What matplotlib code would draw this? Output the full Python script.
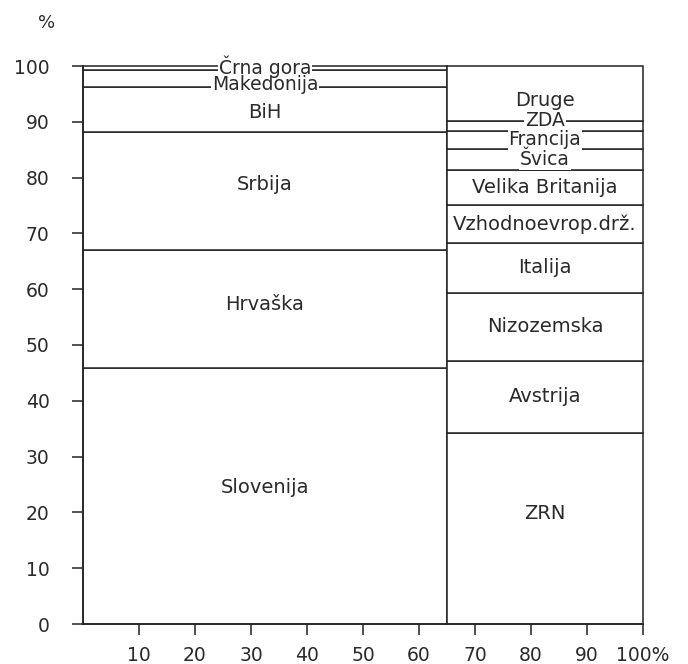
import matplotlib
matplotlib.use("Agg")
import matplotlib.pyplot as plt
import numpy as np

plt.rcParams['font.family'] = ['DejaVu Sans']

# Column widths (share, %)
column_names = ["Jugoslavija", "Tujina"]
column_widths = [65, 35]

# Domestic column (bottom to top)
dom_labels = ["Slovenija", "Hrvaška", "Srbija", "BiH", "Makedonija", "Črna gora"]
dom_values = [45.9, 21.2, 21.0, 8.2, 3.0, 0.7]

# Foreign column (bottom to top)
for_labels = ["ZRN", "Avstrija", "Nizozemska", "Italija", "Vzhodnoevrop.drž.",
              "Velika Britanija", "Švica", "Francija", "ZDA", "Druge"]
for_values = [34.3, 12.9, 12.1, 9.0, 6.8, 6.3, 3.7, 3.3, 1.8, 9.8]

x_ticks = [10, 20, 30, 40, 50, 60, 70, 80, 90, 100]
x_ticklabels = ["10", "20", "30", "40", "50", "60", "70", "80", "90", "100%"]
y_ticks = [0, 10, 20, 30, 40, 50, 60, 70, 80, 90, 100]

# label placement tweaks (offset from segment centre, in % units) and gap-style labels
label_offset = {"Slovenija": 1.6, "Hrvaška": 0.8, "Srbija": 1.2, "BiH": -0.5,
                "Makedonija": -1.2, "Črna gora": 0.3, "ZRN": 2.6, "Druge": -1.2,
                "ZDA": 0.9, "Francija": 0.1}
label_size = {"Makedonija": 13.5, "Črna gora": 13.5, "ZDA": 13.5, "Francija": 13.5, "Švica": 13.5}
gap_labels = {"Črna gora", "Makedonija", "ZDA", "Francija", "Švica"}

fig = plt.figure(figsize=(6.88, 6.64), dpi=100)
ax = fig.add_axes([83/688, 1-624/664, (643-83)/688, (624-66)/664])

lw = 1.1
x_starts = np.concatenate([[0], np.cumsum(column_widths)[:-1]])
for xs, w, labels, vals in [(x_starts[0], column_widths[0], dom_labels, dom_values),
                             (x_starts[1], column_widths[1], for_labels, for_values)]:
    bottoms = np.concatenate([[0], np.cumsum(vals)[:-1]])
    bars = ax.bar([xs]*len(vals), vals, width=w, bottom=bottoms, align='edge',
                  color='white', edgecolor='#222222', linewidth=lw, zorder=2)
    for b in bars:
        b.set_clip_on(False)
    for lab, v, b0 in zip(labels, vals, bottoms):
        yc = b0 + v/2 + label_offset.get(lab, 0)
        fs = label_size.get(lab, 14)
        if lab in gap_labels:
            # white gap in the lines behind the label
            ax.text(xs + w/2, yc, lab, ha='center', va='center', fontsize=fs,
                    color='none', zorder=3, clip_on=False,
                    bbox=dict(facecolor='white', edgecolor='none', pad=0.5))
        ax.text(xs + w/2, yc, lab, ha='center', va='center', fontsize=fs,
                color='#2a2a2a', zorder=5, clip_on=False)

ax.set_xlim(0, 100)
ax.set_ylim(0, 100)
ax.spines['top'].set_visible(False)
ax.spines['right'].set_visible(False)
for s in ['left', 'bottom']:
    ax.spines[s].set_linewidth(lw)
    ax.spines[s].set_color('#222222')
ax.set_xticks(x_ticks)
ax.set_xticklabels(x_ticklabels)
ax.set_yticks(y_ticks)
ax.tick_params(axis='both', direction='out', length=8, width=lw, color='#222222',
               labelsize=13.5, labelcolor='#2a2a2a')
ax.tick_params(axis='y', pad=16)
ax.tick_params(axis='x', pad=8)
fig.text(47/688, 1-23/664, "%", ha='center', va='center', fontsize=13, color='#2a2a2a')

fig.savefig("out.png", dpi=100)
